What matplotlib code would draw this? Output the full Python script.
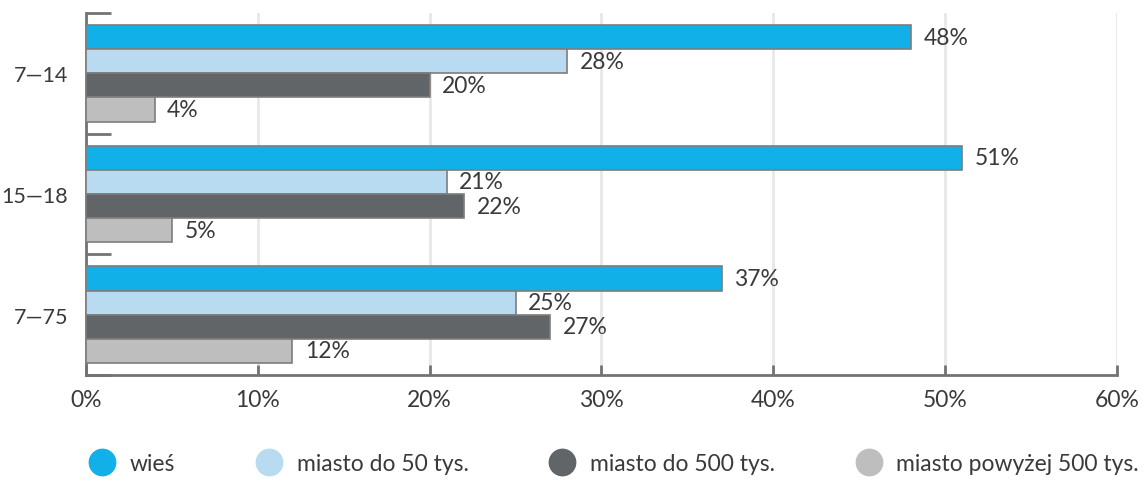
import numpy as np
import matplotlib
matplotlib.use("Agg")
import matplotlib.pyplot as plt
from matplotlib.lines import Line2D

plt.rcParams['font.family'] = ['Lato', 'DejaVu Sans']

groups = ['7—14', '15—18', '7—75']
series = ['wieś', 'miasto do 50 tys.', 'miasto do 500 tys.', 'miasto powyżej 500 tys.']
wies = [48, 51, 37]
miasto_50 = [28, 21, 25]
miasto_500 = [20, 22, 27]
miasto_pow_500 = [4, 5, 12]
values = [wies, miasto_50, miasto_500, miasto_pow_500]
colors = ['#12b0e8', '#b9dbf1', '#626567', '#bdbebd']

text_col = '#3a3a3a'
axis_col = '#737373'
fs = 16.5

fig = plt.figure(figsize=(11.43, 4.81), dpi=100)
ax = fig.add_axes([0.0752, 0.2183, 0.902, 0.7526])

y = np.arange(len(groups))
h = 0.2
for i, (vals, c) in enumerate(zip(values, colors)):
    pos = y - 0.3 + i * h
    ax.barh(pos, vals, height=h, color=c, edgecolor='#7d7d7d', linewidth=1.2, zorder=3)
    for p, v in zip(pos, vals):
        ax.annotate(f'{v}%', (v, p), xytext=(9, 0), textcoords='offset points',
                    va='center', ha='left', fontsize=fs, color=text_col, zorder=4)

ax.set_xlim(0, 60)
ax.set_ylim(2.5, -0.5)
ax.set_xticks(range(0, 61, 10))
ax.set_xticklabels([f'{t}%' for t in range(0, 61, 10)])
ax.tick_params(axis='x', direction='in', length=7, width=2, color=axis_col,
               labelsize=fs, labelcolor=text_col, pad=10)
ax.xaxis.grid(True, color='#e8e8e8', linewidth=2, zorder=0)

ax.set_yticks([-0.5, 0.5, 1.5, 2.5])
ax.set_yticklabels([])
ax.tick_params(axis='y', which='major', direction='in', length=18, width=2, color=axis_col)
ax.set_yticks(y, minor=True)
ax.set_yticklabels(groups, minor=True)
ax.tick_params(axis='y', which='minor', length=0, labelsize=15.5, labelcolor=text_col, pad=13)

for s in ['top', 'right']:
    ax.spines[s].set_visible(False)
for s in ['left', 'bottom']:
    ax.spines[s].set_color(axis_col)
    ax.spines[s].set_linewidth(2)

handles = [Line2D([], [], marker='o', linestyle='none', markersize=19,
                  markerfacecolor=c, markeredgecolor=c) for c in colors]
fig.legend(handles, series, loc='center', bbox_to_anchor=(0.533, 0.035), ncol=4,
           frameon=False, fontsize=fs, handletextpad=0.2, columnspacing=3.1,
           labelcolor=text_col)

fig.savefig('out.png', dpi=100)
